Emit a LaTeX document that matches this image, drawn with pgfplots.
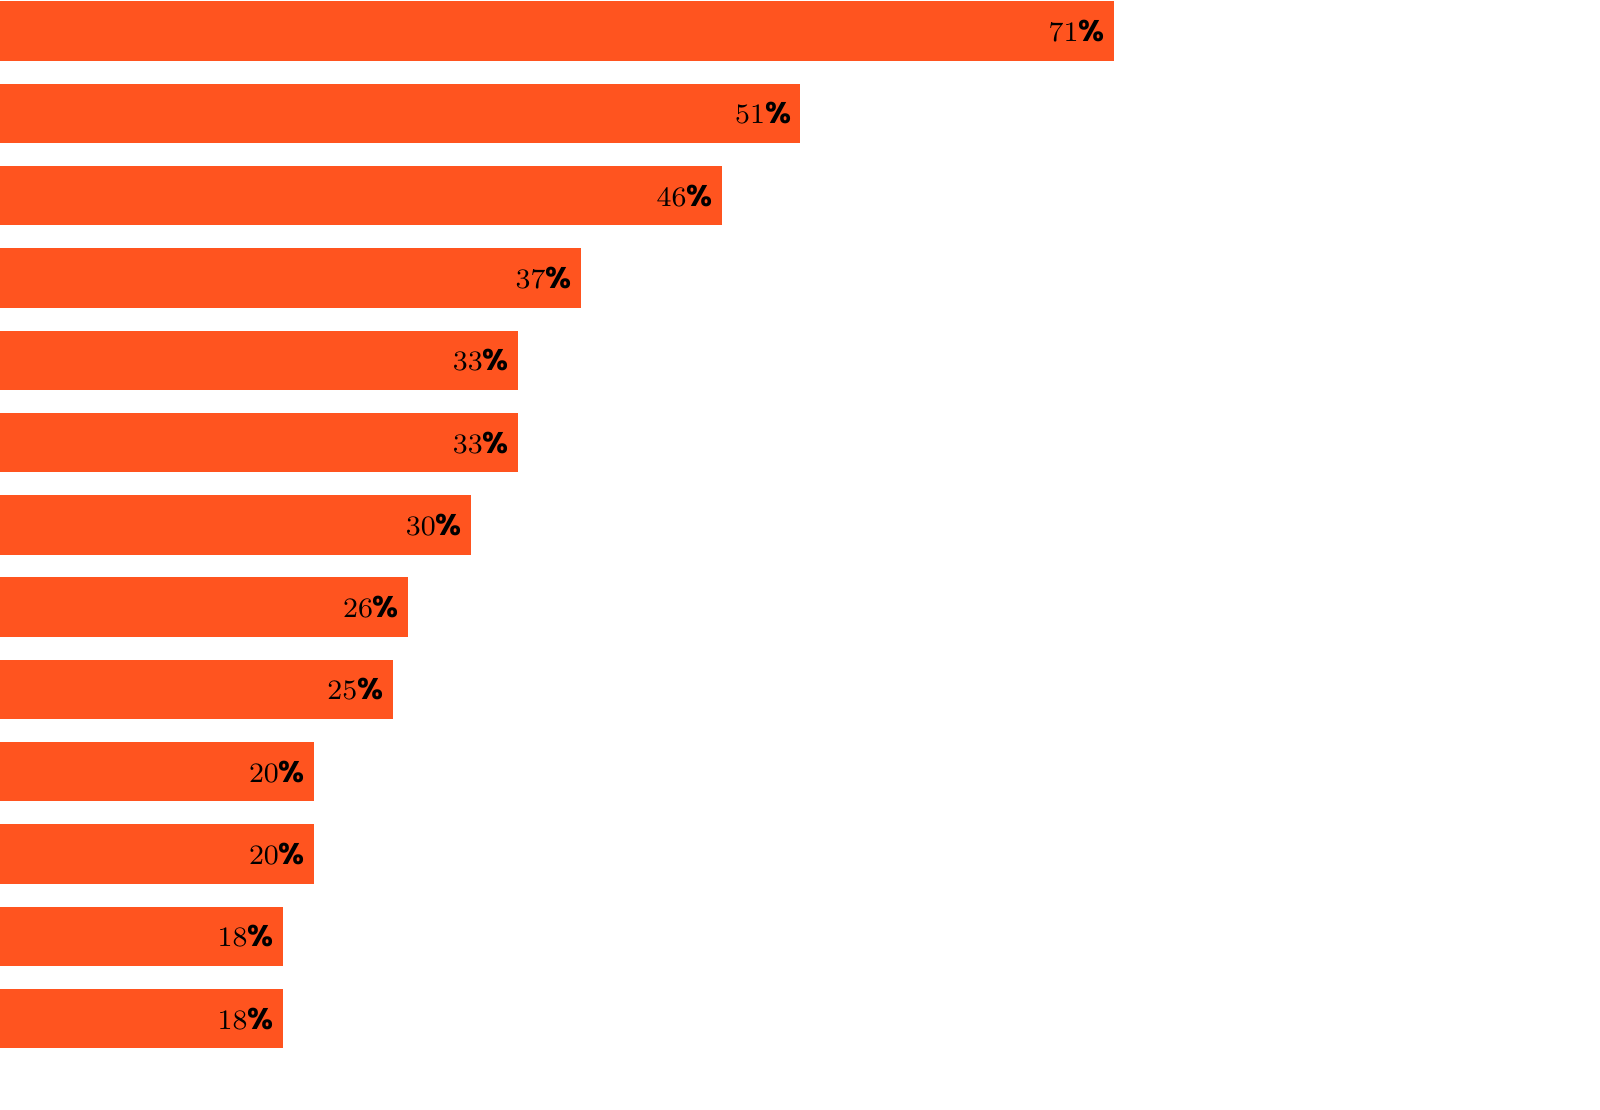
\documentclass[border=0pt]{standalone}
\usepackage{pgfplots}
\pgfplotsset{compat=1.18}
\usepackage{fontspec}
\setmainfont{Poppins}
\definecolor{bar}{HTML}{FF541F}
\begin{document}
\begin{tikzpicture}
\begin{axis}[scale only axis, width=16cm, height=11.09cm,
  xmin=0, xmax=102.04, ymin=-0.3767, ymax=13.098, y dir=reverse,
  hide axis, xbar, bar width=0.58cm, bar shift=0pt,
  point meta=x,
  nodes near coords={\fontsize{8.5}{8.5}\selectfont\bfseries\pgfmathprintnumber{\pgfplotspointmeta}\%},
  every node near coord/.append style={anchor=east, xshift=-0.08cm, text=black, inner sep=0pt}]
\addplot[fill=bar, draw=bar] coordinates {
(71,0) (51,1) (46,2) (37,3) (33,4) (33,5) (30,6) (26,7) (25,8) (20,9) (20,10) (18,11) (18,12)};
\end{axis}
\pgfresetboundingbox
\path (0,0) rectangle (16cm,11.09cm);
\end{tikzpicture}
\end{document}
